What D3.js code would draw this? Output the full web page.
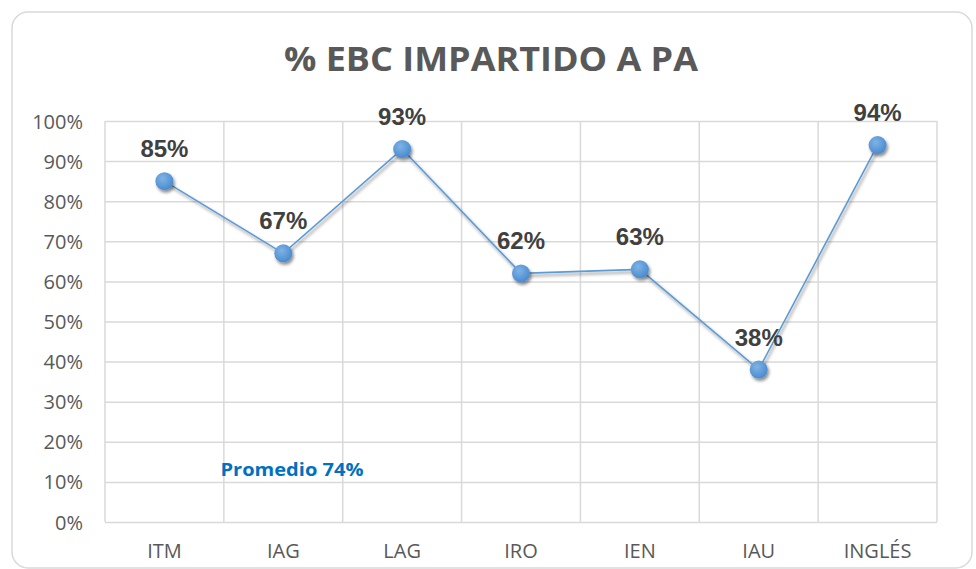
<!DOCTYPE html>
<html lang="es">
  <head>
    <meta charset="utf-8">
    <title>% EBC IMPARTIDO A PA</title>
    <script src="https://d3js.org/d3.v7.min.js"></script>
    <style>
      body { margin: 0; background: #fff; }
    </style>
  </head>
  <body>
    <div id="grafico"></div>
    <script>
      // datos
      const areas = ['ITM', 'IAG', 'LAG', 'IRO', 'IEN', 'IAU', 'INGLÉS']
      const porcentajes = [0.85, 0.67, 0.93, 0.62, 0.63, 0.38, 0.94]
      const ticksY = [0, 0.1, 0.2, 0.3, 0.4, 0.5, 0.6, 0.7, 0.8, 0.9, 1]
      const titulo = '% EBC IMPARTIDO A PA'
      const nota = 'Promedio 74%'

      const ancho = 976, alto = 569
      const area = { izq: 105, der: 937, arriba: 121, abajo: 522 }
      const fuente = '"Open Sans", sans-serif'

      const svg = d3.select('#grafico').append('svg')
        .attr('width', ancho)
        .attr('height', alto)

      const defs = svg.append('defs')
      const sombra = defs.append('filter').attr('id', 'sombra')
        .attr('x', '-50%').attr('y', '-50%').attr('width', '200%').attr('height', '200%')
      sombra.append('feDropShadow')
        .attr('dx', 1.5).attr('dy', 2.5).attr('stdDeviation', 1.8)
        .attr('flood-color', '#000').attr('flood-opacity', 0.45)
      const grad = defs.append('radialGradient').attr('id', 'bola')
        .attr('cx', '40%').attr('cy', '35%').attr('r', '65%')
      grad.append('stop').attr('offset', '0%').attr('stop-color', '#7fb3e4')
      grad.append('stop').attr('offset', '100%').attr('stop-color', '#4a8bd0')

      // marco del gráfico
      svg.append('rect')
        .attr('x', 12).attr('y', 12)
        .attr('width', 960).attr('height', 556)
        .attr('rx', 16)
        .attr('fill', '#fff')
        .attr('stroke', '#d9d9d9')
        .attr('stroke-width', 1.5)

      svg.append('text')
        .attr('x', 491).attr('y', 71)
        .attr('text-anchor', 'middle')
        .attr('font-size', 34)
        .attr('font-weight', 'bold')
        .attr('fill', '#595959')
        .attr('textLength', 414)
        .attr('lengthAdjust', 'spacingAndGlyphs')
        .style('font-family', fuente)
        .text(titulo)

      const x = d3.scaleBand()
        .domain(areas)
        .range([area.izq, area.der])

      const y = d3.scaleLinear()
        .domain([0, 1])
        .range([area.abajo, area.arriba])

      // rejilla horizontal y eje Y
      const ejeY = svg.append('g')
        .attr('transform', `translate(${area.izq},0)`)
        .call(d3.axisLeft(y).tickValues(ticksY).tickFormat(d3.format('.0%'))
          .tickSize(-(area.der - area.izq)).tickPadding(22))
      ejeY.select('.domain').remove()
      ejeY.selectAll('line').attr('stroke', '#d9d9d9').attr('stroke-width', 1.5)
      ejeY.selectAll('text')
        .attr('font-size', 20).attr('fill', '#595959')
        .attr('dy', '0.35em')
        .style('font-family', fuente)

      // rejilla vertical
      svg.append('g').selectAll('line')
        .data(areas.concat(['fin']))
        .join('line')
          .attr('x1', (d, i) => area.izq + i * x.bandwidth())
          .attr('x2', (d, i) => area.izq + i * x.bandwidth())
          .attr('y1', area.arriba)
          .attr('y2', area.abajo)
          .attr('stroke', '#d9d9d9')
          .attr('stroke-width', 1.5)

      // eje X
      const ejeX = svg.append('g')
        .attr('transform', `translate(0,${area.abajo})`)
        .call(d3.axisBottom(x).tickSize(0).tickPadding(20))
      ejeX.select('.domain').remove()
      ejeX.selectAll('text')
        .attr('font-size', 20).attr('fill', '#595959')
        .attr('dy', '0.8em')
        .style('font-family', fuente)

      const cx = d => x(d) + x.bandwidth() / 2

      const linea = d3.line()
        .x((d, i) => cx(areas[i]))
        .y(d => y(d))

      svg.append('path')
        .datum(porcentajes)
        .attr('d', linea)
        .attr('fill', 'none')
        .attr('stroke', '#5b9bd5')
        .attr('stroke-width', 1.6)
        .attr('filter', 'url(#sombra)')

      svg.append('g').selectAll('circle')
        .data(porcentajes)
        .join('circle')
          .attr('cx', (d, i) => cx(areas[i]))
          .attr('cy', d => y(d))
          .attr('r', 9)
          .attr('fill', 'url(#bola)')
          .attr('filter', 'url(#sombra)')

      svg.append('g').selectAll('text')
        .data(porcentajes)
        .join('text')
          .attr('x', (d, i) => cx(areas[i]))
          .attr('y', d => y(d) - 24)
          .attr('text-anchor', 'middle')
          .attr('font-size', 24)
          .attr('font-weight', 'bold')
          .attr('fill', '#404040')
          .style('font-family', '"Liberation Sans", Arial, sans-serif')
          .text(d => d3.format('.0%')(d))

      svg.append('text')
        .attr('x', 292).attr('y', 476)
        .attr('text-anchor', 'middle')
        .attr('font-size', 18)
        .attr('font-weight', 'bold')
        .attr('fill', '#0070c0')
        .attr('textLength', 143)
        .attr('lengthAdjust', 'spacingAndGlyphs')
        .style('font-family', fuente)
        .text(nota)
    </script>
  </body>
</html>
